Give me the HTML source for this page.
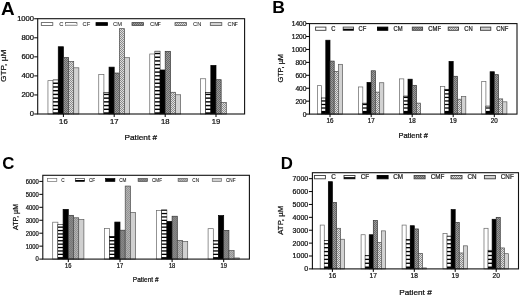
<!DOCTYPE html>
<html><head><meta charset="utf-8"><title>Chart</title>
<style>html,body{margin:0;padding:0;background:#fff;}body{width:520px;height:296px;overflow:hidden;font-family:"Liberation Sans",sans-serif;}svg{display:block}</style>
</head><body>
<svg width="520" height="296" viewBox="0 0 520 296" style="filter:blur(0.35px)">
<defs>
<pattern id="pCF" width="4" height="3.5" patternUnits="userSpaceOnUse"><rect width="4" height="3.5" fill="#fff"/><rect y="0" width="4" height="2" fill="#000"/></pattern>
<pattern id="pCMF" width="2" height="2" patternUnits="userSpaceOnUse"><rect width="2" height="2" fill="#9a9a9a"/><rect width="1" height="1" fill="#686868"/><rect x="1" y="1" width="1" height="1" fill="#686868"/></pattern>
<pattern id="pCN" width="2" height="2" patternUnits="userSpaceOnUse"><rect width="2" height="2" fill="#dedede"/><rect width="1" height="1" fill="#8c8c8c"/><rect x="1" y="1" width="1" height="1" fill="#8c8c8c"/></pattern>
<pattern id="pCMFc" width="2" height="2" patternUnits="userSpaceOnUse"><rect width="2" height="2" fill="#888"/><rect width="1" height="1" fill="#787878"/><rect x="1" y="1" width="1" height="1" fill="#787878"/></pattern>
<pattern id="pCNc" width="2" height="2" patternUnits="userSpaceOnUse"><rect width="2" height="2" fill="#b4b4b4"/><rect width="1" height="1" fill="#949494"/><rect x="1" y="1" width="1" height="1" fill="#949494"/></pattern>
</defs>
<rect width="520" height="296" fill="#fff"/><rect x="47.95" y="80.66" width="5.15" height="33.34" fill="#fff" stroke="#666" stroke-width="0.7"/>
<rect x="53.10" y="79.90" width="5.15" height="34.10" fill="#000" stroke="#000" stroke-width="0.5"/>
<rect x="53.25" y="110.00" width="4.85" height="2.30" fill="#fff"/>
<rect x="53.25" y="106.28" width="4.85" height="2.30" fill="#fff"/>
<rect x="53.25" y="102.56" width="4.85" height="2.30" fill="#fff"/>
<rect x="53.25" y="98.84" width="4.85" height="2.30" fill="#fff"/>
<rect x="53.25" y="95.12" width="4.85" height="2.30" fill="#fff"/>
<rect x="53.25" y="91.40" width="4.85" height="2.30" fill="#fff"/>
<rect x="53.25" y="87.68" width="4.85" height="2.30" fill="#fff"/>
<rect x="53.25" y="83.96" width="4.85" height="2.30" fill="#fff"/>
<rect x="53.25" y="80.24" width="4.85" height="2.30" fill="#fff"/>
<rect x="58.25" y="46.75" width="5.15" height="67.25" fill="#000" stroke="#000" stroke-width="0.7"/>
<rect x="63.40" y="57.61" width="5.15" height="56.39" fill="url(#pCMF)" stroke="#333" stroke-width="0.7"/>
<rect x="68.55" y="61.61" width="5.15" height="52.39" fill="url(#pCN)" stroke="#4a4a4a" stroke-width="0.7"/>
<rect x="73.70" y="67.80" width="5.15" height="46.20" fill="#d2d2d2" stroke="#5a5a5a" stroke-width="0.7"/>
<rect x="98.75" y="74.47" width="5.15" height="39.53" fill="#fff" stroke="#666" stroke-width="0.7"/>
<rect x="103.90" y="92.28" width="5.15" height="21.72" fill="#000" stroke="#000" stroke-width="0.5"/>
<rect x="104.05" y="110.00" width="4.85" height="2.30" fill="#fff"/>
<rect x="104.05" y="106.28" width="4.85" height="2.30" fill="#fff"/>
<rect x="104.05" y="102.56" width="4.85" height="2.30" fill="#fff"/>
<rect x="104.05" y="98.84" width="4.85" height="2.30" fill="#fff"/>
<rect x="104.05" y="95.12" width="4.85" height="2.30" fill="#fff"/>
<rect x="104.05" y="92.68" width="4.85" height="1.02" fill="#fff"/>
<rect x="109.05" y="67.14" width="5.15" height="46.86" fill="#000" stroke="#000" stroke-width="0.7"/>
<rect x="114.20" y="73.04" width="5.15" height="40.96" fill="url(#pCMF)" stroke="#333" stroke-width="0.7"/>
<rect x="119.35" y="28.66" width="5.15" height="85.34" fill="url(#pCN)" stroke="#4a4a4a" stroke-width="0.7"/>
<rect x="124.50" y="57.71" width="5.15" height="56.29" fill="#d2d2d2" stroke="#5a5a5a" stroke-width="0.7"/>
<rect x="149.75" y="53.99" width="5.15" height="60.01" fill="#fff" stroke="#666" stroke-width="0.7"/>
<rect x="154.90" y="51.13" width="5.15" height="62.87" fill="#000" stroke="#000" stroke-width="0.5"/>
<rect x="155.05" y="110.00" width="4.85" height="2.30" fill="#fff"/>
<rect x="155.05" y="106.28" width="4.85" height="2.30" fill="#fff"/>
<rect x="155.05" y="102.56" width="4.85" height="2.30" fill="#fff"/>
<rect x="155.05" y="98.84" width="4.85" height="2.30" fill="#fff"/>
<rect x="155.05" y="95.12" width="4.85" height="2.30" fill="#fff"/>
<rect x="155.05" y="91.40" width="4.85" height="2.30" fill="#fff"/>
<rect x="155.05" y="87.68" width="4.85" height="2.30" fill="#fff"/>
<rect x="155.05" y="83.96" width="4.85" height="2.30" fill="#fff"/>
<rect x="155.05" y="80.24" width="4.85" height="2.30" fill="#fff"/>
<rect x="155.05" y="76.52" width="4.85" height="2.30" fill="#fff"/>
<rect x="155.05" y="72.80" width="4.85" height="2.30" fill="#fff"/>
<rect x="155.05" y="69.08" width="4.85" height="2.30" fill="#fff"/>
<rect x="155.05" y="65.36" width="4.85" height="2.30" fill="#fff"/>
<rect x="155.05" y="61.64" width="4.85" height="2.30" fill="#fff"/>
<rect x="155.05" y="57.92" width="4.85" height="2.30" fill="#fff"/>
<rect x="155.05" y="54.20" width="4.85" height="2.30" fill="#fff"/>
<rect x="155.05" y="51.53" width="4.85" height="1.25" fill="#fff"/>
<rect x="160.05" y="69.99" width="5.15" height="44.01" fill="#000" stroke="#000" stroke-width="0.7"/>
<rect x="165.20" y="51.33" width="5.15" height="62.67" fill="url(#pCMF)" stroke="#333" stroke-width="0.7"/>
<rect x="170.35" y="92.28" width="5.15" height="21.72" fill="url(#pCN)" stroke="#4a4a4a" stroke-width="0.7"/>
<rect x="175.50" y="94.76" width="5.15" height="19.24" fill="#d2d2d2" stroke="#5a5a5a" stroke-width="0.7"/>
<rect x="200.55" y="78.76" width="5.15" height="35.24" fill="#fff" stroke="#666" stroke-width="0.7"/>
<rect x="205.70" y="92.57" width="5.15" height="21.43" fill="#000" stroke="#000" stroke-width="0.5"/>
<rect x="205.85" y="110.00" width="4.85" height="2.30" fill="#fff"/>
<rect x="205.85" y="106.28" width="4.85" height="2.30" fill="#fff"/>
<rect x="205.85" y="102.56" width="4.85" height="2.30" fill="#fff"/>
<rect x="205.85" y="98.84" width="4.85" height="2.30" fill="#fff"/>
<rect x="205.85" y="95.12" width="4.85" height="2.30" fill="#fff"/>
<rect x="205.85" y="92.97" width="4.85" height="0.73" fill="#fff"/>
<rect x="210.85" y="65.42" width="5.15" height="48.58" fill="#000" stroke="#000" stroke-width="0.7"/>
<rect x="216.00" y="79.71" width="5.15" height="34.29" fill="url(#pCMF)" stroke="#333" stroke-width="0.7"/>
<rect x="221.15" y="102.57" width="5.15" height="11.43" fill="url(#pCN)" stroke="#4a4a4a" stroke-width="0.7"/>
<rect x="37.7" y="18.7" width="206.89999999999998" height="95.3" fill="none" stroke="#111" stroke-width="1.1"/>
<line x1="34.2" y1="114.00" x2="37.7" y2="114.00" stroke="#000" stroke-width="1"/>
<text transform="translate(34.10,116.45) scale(1.09,1)" text-anchor="end" style="font-family:'Liberation Sans',sans-serif;font-size:7px" fill="#111" stroke="#111" stroke-width="0.24">0</text>
<line x1="34.2" y1="94.95" x2="37.7" y2="94.95" stroke="#000" stroke-width="1"/>
<text transform="translate(34.10,97.40) scale(1.09,1)" text-anchor="end" style="font-family:'Liberation Sans',sans-serif;font-size:7px" fill="#111" stroke="#111" stroke-width="0.24">200</text>
<line x1="34.2" y1="75.90" x2="37.7" y2="75.90" stroke="#000" stroke-width="1"/>
<text transform="translate(34.10,78.35) scale(1.09,1)" text-anchor="end" style="font-family:'Liberation Sans',sans-serif;font-size:7px" fill="#111" stroke="#111" stroke-width="0.24">400</text>
<line x1="34.2" y1="56.85" x2="37.7" y2="56.85" stroke="#000" stroke-width="1"/>
<text transform="translate(34.10,59.30) scale(1.09,1)" text-anchor="end" style="font-family:'Liberation Sans',sans-serif;font-size:7px" fill="#111" stroke="#111" stroke-width="0.24">600</text>
<line x1="34.2" y1="37.80" x2="37.7" y2="37.80" stroke="#000" stroke-width="1"/>
<text transform="translate(34.10,40.25) scale(1.09,1)" text-anchor="end" style="font-family:'Liberation Sans',sans-serif;font-size:7px" fill="#111" stroke="#111" stroke-width="0.24">800</text>
<line x1="34.2" y1="18.75" x2="37.7" y2="18.75" stroke="#000" stroke-width="1"/>
<text transform="translate(34.10,21.20) scale(1.09,1)" text-anchor="end" style="font-family:'Liberation Sans',sans-serif;font-size:7px" fill="#111" stroke="#111" stroke-width="0.24">1000</text>
<line x1="63.4" y1="114.0" x2="63.4" y2="117.0" stroke="#000" stroke-width="1"/>
<text transform="translate(63.40,124.10) scale(1.0,1)" text-anchor="middle" style="font-family:'Liberation Sans',sans-serif;font-size:7.7px" fill="#111" stroke="#111" stroke-width="0.24">16</text>
<line x1="114.2" y1="114.0" x2="114.2" y2="117.0" stroke="#000" stroke-width="1"/>
<text transform="translate(114.20,124.10) scale(1.0,1)" text-anchor="middle" style="font-family:'Liberation Sans',sans-serif;font-size:7.7px" fill="#111" stroke="#111" stroke-width="0.24">17</text>
<line x1="165.2" y1="114.0" x2="165.2" y2="117.0" stroke="#000" stroke-width="1"/>
<text transform="translate(165.20,124.10) scale(1.0,1)" text-anchor="middle" style="font-family:'Liberation Sans',sans-serif;font-size:7.7px" fill="#111" stroke="#111" stroke-width="0.24">18</text>
<line x1="216.0" y1="114.0" x2="216.0" y2="117.0" stroke="#000" stroke-width="1"/>
<text transform="translate(216.00,124.10) scale(1.0,1)" text-anchor="middle" style="font-family:'Liberation Sans',sans-serif;font-size:7.7px" fill="#111" stroke="#111" stroke-width="0.24">19</text>
<text transform="translate(140.80,139.50) scale(1.09,1)" text-anchor="middle" style="font-family:'Liberation Sans',sans-serif;font-size:7.6px" fill="#111" stroke="#111" stroke-width="0.24">Patient #</text>
<text transform="translate(6.20,65.80) rotate(-90) scale(1.12,1)" text-anchor="middle" style="font-family:'Liberation Sans',sans-serif;font-size:7.4px" fill="#111" stroke="#111" stroke-width="0.24">GTP, µM</text>
<text transform="translate(0.90,14.50) scale(1.05,1)" text-anchor="start" style="font-family:'Liberation Sans',sans-serif;font-size:18px;font-weight:bold" fill="#000">A</text>
<rect x="41.3" y="22.6" width="11.5" height="2.8" fill="#fff" stroke="#555" stroke-width="0.8"/>
<text transform="translate(59.30,26.20) scale(1.05,1)" text-anchor="start" style="font-family:'Liberation Sans',sans-serif;font-size:5.5px" fill="#333" stroke="#333" stroke-width="0.1">C</text>
<rect x="65.4" y="22.6" width="11.5" height="2.8" fill="#fff" stroke="#555" stroke-width="0.8"/>
<rect x="65.4" y="24.00" width="11.5" height="1.40" fill="#e4e4e4"/>
<text transform="translate(82.50,26.20) scale(1.05,1)" text-anchor="start" style="font-family:'Liberation Sans',sans-serif;font-size:5.5px" fill="#333" stroke="#333" stroke-width="0.1">CF</text>
<rect x="96" y="22.6" width="11.5" height="2.8" fill="#000" stroke="#000" stroke-width="0.8"/>
<text transform="translate(113.00,26.20) scale(1.05,1)" text-anchor="start" style="font-family:'Liberation Sans',sans-serif;font-size:5.5px" fill="#333" stroke="#333" stroke-width="0.1">CM</text>
<rect x="132" y="22.6" width="11.5" height="2.8" fill="url(#pCMF)" stroke="#444" stroke-width="0.8"/>
<text transform="translate(150.00,26.20) scale(1.05,1)" text-anchor="start" style="font-family:'Liberation Sans',sans-serif;font-size:5.5px" fill="#333" stroke="#333" stroke-width="0.1">CM<tspan dx="-1.6">F</tspan></text>
<rect x="175" y="22.6" width="11.5" height="2.8" fill="url(#pCN)" stroke="#555" stroke-width="0.8"/>
<text transform="translate(193.00,26.20) scale(1.05,1)" text-anchor="start" style="font-family:'Liberation Sans',sans-serif;font-size:5.5px" fill="#333" stroke="#333" stroke-width="0.1">CN</text>
<rect x="210.3" y="22.6" width="11.5" height="2.8" fill="#d2d2d2" stroke="#555" stroke-width="0.8"/>
<text transform="translate(227.60,26.20) scale(1.05,1)" text-anchor="start" style="font-family:'Liberation Sans',sans-serif;font-size:5.5px" fill="#333" stroke="#333" stroke-width="0.1">CN<tspan dx="-1.6">F</tspan></text>
<rect x="317.40" y="85.65" width="4.20" height="28.45" fill="#fff" stroke="#666" stroke-width="0.7"/>
<rect x="321.60" y="97.94" width="4.20" height="16.16" fill="#000" stroke="#000" stroke-width="0.5"/>
<rect x="321.75" y="108.65" width="3.90" height="2.25" fill="#fff"/>
<rect x="321.75" y="105.12" width="3.90" height="2.25" fill="#fff"/>
<rect x="321.75" y="101.59" width="3.90" height="2.25" fill="#fff"/>
<rect x="321.75" y="98.34" width="3.90" height="1.97" fill="#fff"/>
<rect x="325.80" y="40.21" width="4.20" height="73.89" fill="#000" stroke="#000" stroke-width="0.7"/>
<rect x="330.00" y="61.09" width="4.20" height="53.01" fill="url(#pCMF)" stroke="#333" stroke-width="0.7"/>
<rect x="334.20" y="71.43" width="4.20" height="42.67" fill="url(#pCN)" stroke="#4a4a4a" stroke-width="0.7"/>
<rect x="338.40" y="64.32" width="4.20" height="49.78" fill="#d2d2d2" stroke="#5a5a5a" stroke-width="0.7"/>
<rect x="358.60" y="86.95" width="4.20" height="27.15" fill="#fff" stroke="#666" stroke-width="0.7"/>
<rect x="362.80" y="103.11" width="4.20" height="10.99" fill="#000" stroke="#000" stroke-width="0.5"/>
<rect x="362.95" y="108.65" width="3.90" height="2.25" fill="#fff"/>
<rect x="362.95" y="105.12" width="3.90" height="2.25" fill="#fff"/>
<rect x="362.95" y="103.51" width="3.90" height="0.33" fill="#fff"/>
<rect x="367.00" y="82.42" width="4.20" height="31.68" fill="#000" stroke="#000" stroke-width="0.7"/>
<rect x="371.20" y="70.78" width="4.20" height="43.32" fill="url(#pCMF)" stroke="#333" stroke-width="0.7"/>
<rect x="375.40" y="92.12" width="4.20" height="21.98" fill="url(#pCN)" stroke="#4a4a4a" stroke-width="0.7"/>
<rect x="379.60" y="82.74" width="4.20" height="31.36" fill="#d2d2d2" stroke="#5a5a5a" stroke-width="0.7"/>
<rect x="399.60" y="78.87" width="4.20" height="35.23" fill="#fff" stroke="#666" stroke-width="0.7"/>
<rect x="403.80" y="96.00" width="4.20" height="18.10" fill="#000" stroke="#000" stroke-width="0.5"/>
<rect x="403.95" y="108.65" width="3.90" height="2.25" fill="#fff"/>
<rect x="403.95" y="105.12" width="3.90" height="2.25" fill="#fff"/>
<rect x="403.95" y="101.59" width="3.90" height="2.25" fill="#fff"/>
<rect x="403.95" y="98.06" width="3.90" height="2.25" fill="#fff"/>
<rect x="403.95" y="96.40" width="3.90" height="0.38" fill="#fff"/>
<rect x="408.00" y="79.19" width="4.20" height="34.91" fill="#000" stroke="#000" stroke-width="0.7"/>
<rect x="412.20" y="85.33" width="4.20" height="28.77" fill="url(#pCMF)" stroke="#333" stroke-width="0.7"/>
<rect x="416.40" y="103.11" width="4.20" height="10.99" fill="url(#pCN)" stroke="#4a4a4a" stroke-width="0.7"/>
<rect x="440.60" y="86.62" width="4.20" height="27.48" fill="#fff" stroke="#666" stroke-width="0.7"/>
<rect x="444.80" y="89.21" width="4.20" height="24.89" fill="#000" stroke="#000" stroke-width="0.5"/>
<rect x="444.95" y="108.65" width="3.90" height="2.25" fill="#fff"/>
<rect x="444.95" y="105.12" width="3.90" height="2.25" fill="#fff"/>
<rect x="444.95" y="101.59" width="3.90" height="2.25" fill="#fff"/>
<rect x="444.95" y="98.06" width="3.90" height="2.25" fill="#fff"/>
<rect x="444.95" y="94.53" width="3.90" height="2.25" fill="#fff"/>
<rect x="444.95" y="91.00" width="3.90" height="2.25" fill="#fff"/>
<rect x="444.95" y="89.61" width="3.90" height="0.11" fill="#fff"/>
<rect x="449.00" y="61.41" width="4.20" height="52.69" fill="#000" stroke="#000" stroke-width="0.7"/>
<rect x="453.20" y="76.28" width="4.20" height="37.82" fill="url(#pCMF)" stroke="#333" stroke-width="0.7"/>
<rect x="457.40" y="99.23" width="4.20" height="14.87" fill="url(#pCN)" stroke="#4a4a4a" stroke-width="0.7"/>
<rect x="461.60" y="96.64" width="4.20" height="17.46" fill="#d2d2d2" stroke="#5a5a5a" stroke-width="0.7"/>
<rect x="481.70" y="81.45" width="4.20" height="32.65" fill="#fff" stroke="#666" stroke-width="0.7"/>
<rect x="485.90" y="106.02" width="4.20" height="8.08" fill="#000" stroke="#000" stroke-width="0.5"/>
<rect x="486.05" y="108.65" width="3.90" height="2.25" fill="#fff"/>
<rect x="486.05" y="106.42" width="3.90" height="0.95" fill="#fff"/>
<rect x="490.10" y="71.75" width="4.20" height="42.35" fill="#000" stroke="#000" stroke-width="0.7"/>
<rect x="494.30" y="74.66" width="4.20" height="39.44" fill="url(#pCMF)" stroke="#333" stroke-width="0.7"/>
<rect x="498.50" y="98.91" width="4.20" height="15.19" fill="url(#pCN)" stroke="#4a4a4a" stroke-width="0.7"/>
<rect x="502.70" y="101.82" width="4.20" height="12.28" fill="#d2d2d2" stroke="#5a5a5a" stroke-width="0.7"/>
<rect x="309.5" y="23.6" width="207.5" height="90.5" fill="none" stroke="#111" stroke-width="1.1"/>
<line x1="306.0" y1="114.10" x2="309.5" y2="114.10" stroke="#000" stroke-width="1"/>
<text transform="translate(306.50,116.55) scale(0.95,1)" text-anchor="end" style="font-family:'Liberation Sans',sans-serif;font-size:7px" fill="#111" stroke="#111" stroke-width="0.24">0</text>
<line x1="306.0" y1="101.17" x2="309.5" y2="101.17" stroke="#000" stroke-width="1"/>
<text transform="translate(306.50,103.62) scale(0.95,1)" text-anchor="end" style="font-family:'Liberation Sans',sans-serif;font-size:7px" fill="#111" stroke="#111" stroke-width="0.24">200</text>
<line x1="306.0" y1="88.24" x2="309.5" y2="88.24" stroke="#000" stroke-width="1"/>
<text transform="translate(306.50,90.69) scale(0.95,1)" text-anchor="end" style="font-family:'Liberation Sans',sans-serif;font-size:7px" fill="#111" stroke="#111" stroke-width="0.24">400</text>
<line x1="306.0" y1="75.31" x2="309.5" y2="75.31" stroke="#000" stroke-width="1"/>
<text transform="translate(306.50,77.76) scale(0.95,1)" text-anchor="end" style="font-family:'Liberation Sans',sans-serif;font-size:7px" fill="#111" stroke="#111" stroke-width="0.24">600</text>
<line x1="306.0" y1="62.38" x2="309.5" y2="62.38" stroke="#000" stroke-width="1"/>
<text transform="translate(306.50,64.83) scale(0.95,1)" text-anchor="end" style="font-family:'Liberation Sans',sans-serif;font-size:7px" fill="#111" stroke="#111" stroke-width="0.24">800</text>
<line x1="306.0" y1="49.45" x2="309.5" y2="49.45" stroke="#000" stroke-width="1"/>
<text transform="translate(306.50,51.90) scale(0.95,1)" text-anchor="end" style="font-family:'Liberation Sans',sans-serif;font-size:7px" fill="#111" stroke="#111" stroke-width="0.24">1000</text>
<line x1="306.0" y1="36.52" x2="309.5" y2="36.52" stroke="#000" stroke-width="1"/>
<text transform="translate(306.50,38.97) scale(0.95,1)" text-anchor="end" style="font-family:'Liberation Sans',sans-serif;font-size:7px" fill="#111" stroke="#111" stroke-width="0.24">1200</text>
<line x1="306.0" y1="23.59" x2="309.5" y2="23.59" stroke="#000" stroke-width="1"/>
<text transform="translate(306.50,26.04) scale(0.95,1)" text-anchor="end" style="font-family:'Liberation Sans',sans-serif;font-size:7px" fill="#111" stroke="#111" stroke-width="0.24">1400</text>
<line x1="330" y1="114.1" x2="330" y2="117.1" stroke="#000" stroke-width="1"/>
<text transform="translate(330.00,122.80) scale(0.9,1)" text-anchor="middle" style="font-family:'Liberation Sans',sans-serif;font-size:7px" fill="#111" stroke="#111" stroke-width="0.24">16</text>
<line x1="371.2" y1="114.1" x2="371.2" y2="117.1" stroke="#000" stroke-width="1"/>
<text transform="translate(371.20,122.80) scale(0.9,1)" text-anchor="middle" style="font-family:'Liberation Sans',sans-serif;font-size:7px" fill="#111" stroke="#111" stroke-width="0.24">17</text>
<line x1="412.2" y1="114.1" x2="412.2" y2="117.1" stroke="#000" stroke-width="1"/>
<text transform="translate(412.20,122.80) scale(0.9,1)" text-anchor="middle" style="font-family:'Liberation Sans',sans-serif;font-size:7px" fill="#111" stroke="#111" stroke-width="0.24">18</text>
<line x1="453.2" y1="114.1" x2="453.2" y2="117.1" stroke="#000" stroke-width="1"/>
<text transform="translate(453.20,122.80) scale(0.9,1)" text-anchor="middle" style="font-family:'Liberation Sans',sans-serif;font-size:7px" fill="#111" stroke="#111" stroke-width="0.24">19</text>
<line x1="494.3" y1="114.1" x2="494.3" y2="117.1" stroke="#000" stroke-width="1"/>
<text transform="translate(494.30,122.80) scale(0.9,1)" text-anchor="middle" style="font-family:'Liberation Sans',sans-serif;font-size:7px" fill="#111" stroke="#111" stroke-width="0.24">20</text>
<text transform="translate(413.20,137.90) scale(1.07,1)" text-anchor="middle" style="font-family:'Liberation Sans',sans-serif;font-size:7px" fill="#111" stroke="#111" stroke-width="0.24">Patient #</text>
<text transform="translate(282.50,68.30) rotate(-90) scale(1.05,1)" text-anchor="middle" style="font-family:'Liberation Sans',sans-serif;font-size:7px" fill="#111" stroke="#111" stroke-width="0.24">GTP, µM</text>
<text transform="translate(272.30,12.90) scale(1.1,1)" text-anchor="start" style="font-family:'Liberation Sans',sans-serif;font-size:16px;font-weight:bold" fill="#000">B</text>
<rect x="315.6" y="27.1" width="10.3" height="3.2" fill="#fff" stroke="#3c3c3c" stroke-width="0.9"/>
<text transform="translate(331.30,30.90) scale(0.93,1)" text-anchor="start" style="font-family:'Liberation Sans',sans-serif;font-size:6.3px" fill="#222" stroke="#222" stroke-width="0.22">C</text>
<rect x="343.2" y="27.1" width="10.3" height="3.2" fill="#fff" stroke="#3c3c3c" stroke-width="0.9"/>
<rect x="343.2" y="28.70" width="10.3" height="1.60" fill="#000"/>
<text transform="translate(358.60,30.90) scale(0.93,1)" text-anchor="start" style="font-family:'Liberation Sans',sans-serif;font-size:6.3px" fill="#222" stroke="#222" stroke-width="0.22">CF</text>
<rect x="377.5" y="27.1" width="10.3" height="3.2" fill="#000" stroke="#000" stroke-width="0.9"/>
<text transform="translate(393.40,30.90) scale(0.93,1)" text-anchor="start" style="font-family:'Liberation Sans',sans-serif;font-size:6.3px" fill="#222" stroke="#222" stroke-width="0.22">CM</text>
<rect x="412.3" y="27.1" width="10.3" height="3.2" fill="url(#pCMF)" stroke="#444" stroke-width="0.9"/>
<text transform="translate(428.30,30.90) scale(0.93,1)" text-anchor="start" style="font-family:'Liberation Sans',sans-serif;font-size:6.3px" fill="#222" stroke="#222" stroke-width="0.22">CMF</text>
<rect x="448.2" y="27.1" width="10.3" height="3.2" fill="url(#pCN)" stroke="#3c3c3c" stroke-width="0.9"/>
<text transform="translate(464.20,30.90) scale(0.93,1)" text-anchor="start" style="font-family:'Liberation Sans',sans-serif;font-size:6.3px" fill="#222" stroke="#222" stroke-width="0.22">CN</text>
<rect x="480.5" y="27.1" width="10.3" height="3.2" fill="#d2d2d2" stroke="#3c3c3c" stroke-width="0.9"/>
<text transform="translate(496.30,30.90) scale(0.93,1)" text-anchor="start" style="font-family:'Liberation Sans',sans-serif;font-size:6.3px" fill="#222" stroke="#222" stroke-width="0.22">CNF</text>
<rect x="52.70" y="222.19" width="5.20" height="36.91" fill="#fff" stroke="#666" stroke-width="0.7"/>
<rect x="57.90" y="224.26" width="5.20" height="34.84" fill="#000" stroke="#000" stroke-width="0.5"/>
<rect x="58.05" y="255.00" width="4.90" height="2.10" fill="#fff"/>
<rect x="58.05" y="251.60" width="4.90" height="2.10" fill="#fff"/>
<rect x="58.05" y="248.20" width="4.90" height="2.10" fill="#fff"/>
<rect x="58.05" y="244.80" width="4.90" height="2.10" fill="#fff"/>
<rect x="58.05" y="241.40" width="4.90" height="2.10" fill="#fff"/>
<rect x="58.05" y="238.00" width="4.90" height="2.10" fill="#fff"/>
<rect x="58.05" y="234.60" width="4.90" height="2.10" fill="#fff"/>
<rect x="58.05" y="231.20" width="4.90" height="2.10" fill="#fff"/>
<rect x="58.05" y="227.80" width="4.90" height="2.10" fill="#fff"/>
<rect x="58.05" y="224.66" width="4.90" height="1.84" fill="#fff"/>
<rect x="63.10" y="209.37" width="5.20" height="49.73" fill="#000" stroke="#000" stroke-width="0.7"/>
<rect x="68.30" y="215.33" width="5.20" height="43.77" fill="url(#pCMFc)" stroke="#333" stroke-width="0.7"/>
<rect x="73.50" y="217.79" width="5.20" height="41.31" fill="url(#pCNc)" stroke="#4a4a4a" stroke-width="0.7"/>
<rect x="78.70" y="219.60" width="5.20" height="39.50" fill="#d0d0d0" stroke="#5a5a5a" stroke-width="0.7"/>
<rect x="104.40" y="228.54" width="5.20" height="30.56" fill="#fff" stroke="#666" stroke-width="0.7"/>
<rect x="109.60" y="236.31" width="5.20" height="22.79" fill="#000" stroke="#000" stroke-width="0.5"/>
<rect x="109.75" y="255.00" width="4.90" height="2.10" fill="#fff"/>
<rect x="109.75" y="251.60" width="4.90" height="2.10" fill="#fff"/>
<rect x="109.75" y="248.20" width="4.90" height="2.10" fill="#fff"/>
<rect x="109.75" y="244.80" width="4.90" height="2.10" fill="#fff"/>
<rect x="109.75" y="241.40" width="4.90" height="2.10" fill="#fff"/>
<rect x="109.75" y="238.00" width="4.90" height="2.10" fill="#fff"/>
<rect x="114.80" y="222.06" width="5.20" height="37.04" fill="#000" stroke="#000" stroke-width="0.7"/>
<rect x="120.00" y="230.22" width="5.20" height="28.88" fill="url(#pCMFc)" stroke="#333" stroke-width="0.7"/>
<rect x="125.20" y="186.06" width="5.20" height="73.04" fill="url(#pCNc)" stroke="#4a4a4a" stroke-width="0.7"/>
<rect x="130.40" y="212.35" width="5.20" height="46.75" fill="#d0d0d0" stroke="#5a5a5a" stroke-width="0.7"/>
<rect x="156.50" y="210.41" width="5.20" height="48.69" fill="#fff" stroke="#666" stroke-width="0.7"/>
<rect x="161.70" y="209.89" width="5.20" height="49.21" fill="#000" stroke="#000" stroke-width="0.5"/>
<rect x="161.85" y="255.00" width="4.90" height="2.10" fill="#fff"/>
<rect x="161.85" y="251.60" width="4.90" height="2.10" fill="#fff"/>
<rect x="161.85" y="248.20" width="4.90" height="2.10" fill="#fff"/>
<rect x="161.85" y="244.80" width="4.90" height="2.10" fill="#fff"/>
<rect x="161.85" y="241.40" width="4.90" height="2.10" fill="#fff"/>
<rect x="161.85" y="238.00" width="4.90" height="2.10" fill="#fff"/>
<rect x="161.85" y="234.60" width="4.90" height="2.10" fill="#fff"/>
<rect x="161.85" y="231.20" width="4.90" height="2.10" fill="#fff"/>
<rect x="161.85" y="227.80" width="4.90" height="2.10" fill="#fff"/>
<rect x="161.85" y="224.40" width="4.90" height="2.10" fill="#fff"/>
<rect x="161.85" y="221.00" width="4.90" height="2.10" fill="#fff"/>
<rect x="161.85" y="217.60" width="4.90" height="2.10" fill="#fff"/>
<rect x="161.85" y="214.20" width="4.90" height="2.10" fill="#fff"/>
<rect x="161.85" y="210.80" width="4.90" height="2.10" fill="#fff"/>
<rect x="166.90" y="221.42" width="5.20" height="37.68" fill="#000" stroke="#000" stroke-width="0.7"/>
<rect x="172.10" y="216.24" width="5.20" height="42.86" fill="url(#pCMFc)" stroke="#333" stroke-width="0.7"/>
<rect x="177.30" y="240.45" width="5.20" height="18.65" fill="url(#pCNc)" stroke="#4a4a4a" stroke-width="0.7"/>
<rect x="182.50" y="241.49" width="5.20" height="17.61" fill="#d0d0d0" stroke="#5a5a5a" stroke-width="0.7"/>
<rect x="208.10" y="228.67" width="5.20" height="30.43" fill="#fff" stroke="#666" stroke-width="0.7"/>
<rect x="213.30" y="240.45" width="5.20" height="18.65" fill="#000" stroke="#000" stroke-width="0.5"/>
<rect x="213.45" y="255.00" width="4.90" height="2.10" fill="#fff"/>
<rect x="213.45" y="251.60" width="4.90" height="2.10" fill="#fff"/>
<rect x="213.45" y="248.20" width="4.90" height="2.10" fill="#fff"/>
<rect x="213.45" y="244.80" width="4.90" height="2.10" fill="#fff"/>
<rect x="213.45" y="241.40" width="4.90" height="2.10" fill="#fff"/>
<rect x="218.50" y="215.59" width="5.20" height="43.51" fill="#000" stroke="#000" stroke-width="0.7"/>
<rect x="223.70" y="230.35" width="5.20" height="28.75" fill="url(#pCMFc)" stroke="#333" stroke-width="0.7"/>
<rect x="228.90" y="250.55" width="5.20" height="8.55" fill="url(#pCNc)" stroke="#4a4a4a" stroke-width="0.7"/>
<rect x="234.10" y="257.93" width="5.20" height="1.17" fill="#d0d0d0" stroke="#5a5a5a" stroke-width="0.7"/>
<rect x="42.8" y="175.3" width="206.60000000000002" height="83.80000000000001" fill="none" stroke="#111" stroke-width="1.1"/>
<line x1="39.3" y1="259.10" x2="42.8" y2="259.10" stroke="#000" stroke-width="1"/>
<text transform="translate(38.80,261.48) scale(0.86,1)" text-anchor="end" style="font-family:'Liberation Sans',sans-serif;font-size:6.8px" fill="#111" stroke="#111" stroke-width="0.24">0</text>
<line x1="39.3" y1="246.15" x2="42.8" y2="246.15" stroke="#000" stroke-width="1"/>
<text transform="translate(38.80,248.53) scale(0.86,1)" text-anchor="end" style="font-family:'Liberation Sans',sans-serif;font-size:6.8px" fill="#111" stroke="#111" stroke-width="0.24">1000</text>
<line x1="39.3" y1="233.20" x2="42.8" y2="233.20" stroke="#000" stroke-width="1"/>
<text transform="translate(38.80,235.58) scale(0.86,1)" text-anchor="end" style="font-family:'Liberation Sans',sans-serif;font-size:6.8px" fill="#111" stroke="#111" stroke-width="0.24">2000</text>
<line x1="39.3" y1="220.25" x2="42.8" y2="220.25" stroke="#000" stroke-width="1"/>
<text transform="translate(38.80,222.63) scale(0.86,1)" text-anchor="end" style="font-family:'Liberation Sans',sans-serif;font-size:6.8px" fill="#111" stroke="#111" stroke-width="0.24">3000</text>
<line x1="39.3" y1="207.30" x2="42.8" y2="207.30" stroke="#000" stroke-width="1"/>
<text transform="translate(38.80,209.68) scale(0.86,1)" text-anchor="end" style="font-family:'Liberation Sans',sans-serif;font-size:6.8px" fill="#111" stroke="#111" stroke-width="0.24">4000</text>
<line x1="39.3" y1="194.35" x2="42.8" y2="194.35" stroke="#000" stroke-width="1"/>
<text transform="translate(38.80,196.73) scale(0.86,1)" text-anchor="end" style="font-family:'Liberation Sans',sans-serif;font-size:6.8px" fill="#111" stroke="#111" stroke-width="0.24">5000</text>
<line x1="39.3" y1="181.40" x2="42.8" y2="181.40" stroke="#000" stroke-width="1"/>
<text transform="translate(38.80,183.78) scale(0.86,1)" text-anchor="end" style="font-family:'Liberation Sans',sans-serif;font-size:6.8px" fill="#111" stroke="#111" stroke-width="0.24">6000</text>
<line x1="68.3" y1="259.1" x2="68.3" y2="262.1" stroke="#000" stroke-width="1"/>
<text transform="translate(68.30,267.90) scale(0.85,1)" text-anchor="middle" style="font-family:'Liberation Sans',sans-serif;font-size:6.8px" fill="#111" stroke="#111" stroke-width="0.24">16</text>
<line x1="120" y1="259.1" x2="120" y2="262.1" stroke="#000" stroke-width="1"/>
<text transform="translate(120.00,267.90) scale(0.85,1)" text-anchor="middle" style="font-family:'Liberation Sans',sans-serif;font-size:6.8px" fill="#111" stroke="#111" stroke-width="0.24">17</text>
<line x1="172.1" y1="259.1" x2="172.1" y2="262.1" stroke="#000" stroke-width="1"/>
<text transform="translate(172.10,267.90) scale(0.85,1)" text-anchor="middle" style="font-family:'Liberation Sans',sans-serif;font-size:6.8px" fill="#111" stroke="#111" stroke-width="0.24">18</text>
<line x1="223.7" y1="259.1" x2="223.7" y2="262.1" stroke="#000" stroke-width="1"/>
<text transform="translate(223.70,267.90) scale(0.85,1)" text-anchor="middle" style="font-family:'Liberation Sans',sans-serif;font-size:6.8px" fill="#111" stroke="#111" stroke-width="0.24">19</text>
<text transform="translate(145.70,282.00) scale(0.93,1)" text-anchor="middle" style="font-family:'Liberation Sans',sans-serif;font-size:7px" fill="#111" stroke="#111" stroke-width="0.24">Patient #</text>
<text transform="translate(18.20,217.00) rotate(-90) scale(1.0,1)" text-anchor="middle" style="font-family:'Liberation Sans',sans-serif;font-size:7px" fill="#111" stroke="#111" stroke-width="0.24">ATP, µM</text>
<text transform="translate(2.30,169.00) scale(1.05,1)" text-anchor="start" style="font-family:'Liberation Sans',sans-serif;font-size:16px;font-weight:bold" fill="#000">C</text>
<rect x="47.5" y="178.5" width="9.3" height="3.0" fill="#fff" stroke="#666" stroke-width="0.65"/>
<text transform="translate(61.30,182.20) scale(0.85,1)" text-anchor="start" style="font-family:'Liberation Sans',sans-serif;font-size:5.5px" fill="#222" stroke="#222" stroke-width="0.1">C</text>
<rect x="75.3" y="178.5" width="9.3" height="3.0" fill="#fff" stroke="#333" stroke-width="0.65"/>
<rect x="75.3" y="180.00" width="9.3" height="1.50" fill="#000"/>
<text transform="translate(88.90,182.20) scale(0.85,1)" text-anchor="start" style="font-family:'Liberation Sans',sans-serif;font-size:5.5px" fill="#222" stroke="#222" stroke-width="0.1">CF</text>
<rect x="105.6" y="178.5" width="9.3" height="3.0" fill="#000" stroke="#000" stroke-width="0.65"/>
<text transform="translate(119.20,182.20) scale(0.85,1)" text-anchor="start" style="font-family:'Liberation Sans',sans-serif;font-size:5.5px" fill="#222" stroke="#222" stroke-width="0.1">CM</text>
<rect x="138.1" y="178.5" width="9.3" height="3.0" fill="url(#pCMFc)" stroke="#444" stroke-width="0.65"/>
<text transform="translate(152.00,182.20) scale(0.85,1)" text-anchor="start" style="font-family:'Liberation Sans',sans-serif;font-size:5.5px" fill="#222" stroke="#222" stroke-width="0.1">CMF</text>
<rect x="178.1" y="178.5" width="9.3" height="3.0" fill="url(#pCNc)" stroke="#555" stroke-width="0.65"/>
<text transform="translate(192.30,182.20) scale(0.85,1)" text-anchor="start" style="font-family:'Liberation Sans',sans-serif;font-size:5.5px" fill="#222" stroke="#222" stroke-width="0.1">CN</text>
<rect x="212.25" y="178.5" width="9.3" height="3.0" fill="#d0d0d0" stroke="#666" stroke-width="0.65"/>
<text transform="translate(226.00,182.20) scale(0.85,1)" text-anchor="start" style="font-family:'Liberation Sans',sans-serif;font-size:5.5px" fill="#222" stroke="#222" stroke-width="0.1">CNF</text>
<rect x="320.19" y="225.07" width="4.07" height="43.83" fill="#fff" stroke="#666" stroke-width="0.7"/>
<rect x="324.26" y="240.54" width="4.07" height="28.36" fill="#000" stroke="#000" stroke-width="0.5"/>
<rect x="324.41" y="263.95" width="3.77" height="2.55" fill="#fff"/>
<rect x="324.41" y="260.05" width="3.77" height="2.55" fill="#fff"/>
<rect x="324.41" y="256.15" width="3.77" height="2.55" fill="#fff"/>
<rect x="324.41" y="252.25" width="3.77" height="2.55" fill="#fff"/>
<rect x="324.41" y="248.35" width="3.77" height="2.55" fill="#fff"/>
<rect x="324.41" y="244.45" width="3.77" height="2.55" fill="#fff"/>
<rect x="324.41" y="240.94" width="3.77" height="2.16" fill="#fff"/>
<rect x="328.33" y="181.70" width="4.07" height="87.20" fill="#000" stroke="#000" stroke-width="0.7"/>
<rect x="332.40" y="202.52" width="4.07" height="66.38" fill="url(#pCMF)" stroke="#333" stroke-width="0.7"/>
<rect x="336.47" y="228.30" width="4.07" height="40.60" fill="url(#pCN)" stroke="#4a4a4a" stroke-width="0.7"/>
<rect x="340.54" y="239.25" width="4.07" height="29.65" fill="#d2d2d2" stroke="#5a5a5a" stroke-width="0.7"/>
<rect x="361.09" y="234.74" width="4.07" height="34.16" fill="#fff" stroke="#666" stroke-width="0.7"/>
<rect x="365.16" y="255.37" width="4.07" height="13.53" fill="#000" stroke="#000" stroke-width="0.5"/>
<rect x="365.31" y="263.95" width="3.77" height="2.55" fill="#fff"/>
<rect x="365.31" y="260.05" width="3.77" height="2.55" fill="#fff"/>
<rect x="365.31" y="256.15" width="3.77" height="2.55" fill="#fff"/>
<rect x="369.23" y="234.74" width="4.07" height="34.16" fill="#000" stroke="#000" stroke-width="0.7"/>
<rect x="373.30" y="220.56" width="4.07" height="48.34" fill="url(#pCMF)" stroke="#333" stroke-width="0.7"/>
<rect x="377.37" y="242.48" width="4.07" height="26.42" fill="url(#pCN)" stroke="#4a4a4a" stroke-width="0.7"/>
<rect x="381.44" y="230.87" width="4.07" height="38.03" fill="#d2d2d2" stroke="#5a5a5a" stroke-width="0.7"/>
<rect x="402.09" y="225.07" width="4.07" height="43.83" fill="#fff" stroke="#666" stroke-width="0.7"/>
<rect x="406.16" y="239.25" width="4.07" height="29.65" fill="#000" stroke="#000" stroke-width="0.5"/>
<rect x="406.31" y="263.95" width="3.77" height="2.55" fill="#fff"/>
<rect x="406.31" y="260.05" width="3.77" height="2.55" fill="#fff"/>
<rect x="406.31" y="256.15" width="3.77" height="2.55" fill="#fff"/>
<rect x="406.31" y="252.25" width="3.77" height="2.55" fill="#fff"/>
<rect x="406.31" y="248.35" width="3.77" height="2.55" fill="#fff"/>
<rect x="406.31" y="244.45" width="3.77" height="2.55" fill="#fff"/>
<rect x="406.31" y="240.55" width="3.77" height="2.55" fill="#fff"/>
<rect x="410.23" y="225.72" width="4.07" height="43.18" fill="#000" stroke="#000" stroke-width="0.7"/>
<rect x="414.30" y="228.94" width="4.07" height="39.96" fill="url(#pCMF)" stroke="#333" stroke-width="0.7"/>
<rect x="418.37" y="253.43" width="4.07" height="15.47" fill="url(#pCN)" stroke="#4a4a4a" stroke-width="0.7"/>
<rect x="422.44" y="267.87" width="4.07" height="1.03" fill="#d2d2d2" stroke="#5a5a5a" stroke-width="0.7"/>
<rect x="442.99" y="233.45" width="4.07" height="35.45" fill="#fff" stroke="#666" stroke-width="0.7"/>
<rect x="447.06" y="236.03" width="4.07" height="32.87" fill="#000" stroke="#000" stroke-width="0.5"/>
<rect x="447.21" y="263.95" width="3.77" height="2.55" fill="#fff"/>
<rect x="447.21" y="260.05" width="3.77" height="2.55" fill="#fff"/>
<rect x="447.21" y="256.15" width="3.77" height="2.55" fill="#fff"/>
<rect x="447.21" y="252.25" width="3.77" height="2.55" fill="#fff"/>
<rect x="447.21" y="248.35" width="3.77" height="2.55" fill="#fff"/>
<rect x="447.21" y="244.45" width="3.77" height="2.55" fill="#fff"/>
<rect x="447.21" y="240.55" width="3.77" height="2.55" fill="#fff"/>
<rect x="447.21" y="236.65" width="3.77" height="2.55" fill="#fff"/>
<rect x="451.13" y="209.61" width="4.07" height="59.29" fill="#000" stroke="#000" stroke-width="0.7"/>
<rect x="455.20" y="222.50" width="4.07" height="46.40" fill="url(#pCMF)" stroke="#333" stroke-width="0.7"/>
<rect x="459.27" y="252.98" width="4.07" height="15.92" fill="url(#pCN)" stroke="#4a4a4a" stroke-width="0.7"/>
<rect x="463.34" y="245.83" width="4.07" height="23.07" fill="#d2d2d2" stroke="#5a5a5a" stroke-width="0.7"/>
<rect x="483.99" y="228.30" width="4.07" height="40.60" fill="#fff" stroke="#666" stroke-width="0.7"/>
<rect x="488.06" y="250.21" width="4.07" height="18.69" fill="#000" stroke="#000" stroke-width="0.5"/>
<rect x="488.21" y="263.95" width="3.77" height="2.55" fill="#fff"/>
<rect x="488.21" y="260.05" width="3.77" height="2.55" fill="#fff"/>
<rect x="488.21" y="256.15" width="3.77" height="2.55" fill="#fff"/>
<rect x="488.21" y="252.25" width="3.77" height="2.55" fill="#fff"/>
<rect x="488.21" y="250.61" width="3.77" height="0.29" fill="#fff"/>
<rect x="492.13" y="219.27" width="4.07" height="49.63" fill="#000" stroke="#000" stroke-width="0.7"/>
<rect x="496.20" y="217.34" width="4.07" height="51.56" fill="url(#pCMF)" stroke="#333" stroke-width="0.7"/>
<rect x="500.27" y="247.95" width="4.07" height="20.95" fill="url(#pCN)" stroke="#4a4a4a" stroke-width="0.7"/>
<rect x="504.34" y="253.69" width="4.07" height="15.21" fill="#d2d2d2" stroke="#5a5a5a" stroke-width="0.7"/>
<rect x="312.4" y="172.7" width="206.10000000000002" height="96.19999999999999" fill="none" stroke="#111" stroke-width="1.1"/>
<line x1="308.9" y1="268.90" x2="312.4" y2="268.90" stroke="#000" stroke-width="1"/>
<text transform="translate(308.20,271.35) scale(1.0,1)" text-anchor="end" style="font-family:'Liberation Sans',sans-serif;font-size:7px" fill="#111" stroke="#111" stroke-width="0.24">0</text>
<line x1="308.9" y1="256.01" x2="312.4" y2="256.01" stroke="#000" stroke-width="1"/>
<text transform="translate(308.20,258.46) scale(1.0,1)" text-anchor="end" style="font-family:'Liberation Sans',sans-serif;font-size:7px" fill="#111" stroke="#111" stroke-width="0.24">1000</text>
<line x1="308.9" y1="243.12" x2="312.4" y2="243.12" stroke="#000" stroke-width="1"/>
<text transform="translate(308.20,245.57) scale(1.0,1)" text-anchor="end" style="font-family:'Liberation Sans',sans-serif;font-size:7px" fill="#111" stroke="#111" stroke-width="0.24">2000</text>
<line x1="308.9" y1="230.23" x2="312.4" y2="230.23" stroke="#000" stroke-width="1"/>
<text transform="translate(308.20,232.68) scale(1.0,1)" text-anchor="end" style="font-family:'Liberation Sans',sans-serif;font-size:7px" fill="#111" stroke="#111" stroke-width="0.24">3000</text>
<line x1="308.9" y1="217.34" x2="312.4" y2="217.34" stroke="#000" stroke-width="1"/>
<text transform="translate(308.20,219.79) scale(1.0,1)" text-anchor="end" style="font-family:'Liberation Sans',sans-serif;font-size:7px" fill="#111" stroke="#111" stroke-width="0.24">4000</text>
<line x1="308.9" y1="204.45" x2="312.4" y2="204.45" stroke="#000" stroke-width="1"/>
<text transform="translate(308.20,206.90) scale(1.0,1)" text-anchor="end" style="font-family:'Liberation Sans',sans-serif;font-size:7px" fill="#111" stroke="#111" stroke-width="0.24">5000</text>
<line x1="308.9" y1="191.56" x2="312.4" y2="191.56" stroke="#000" stroke-width="1"/>
<text transform="translate(308.20,194.01) scale(1.0,1)" text-anchor="end" style="font-family:'Liberation Sans',sans-serif;font-size:7px" fill="#111" stroke="#111" stroke-width="0.24">6000</text>
<line x1="308.9" y1="178.67" x2="312.4" y2="178.67" stroke="#000" stroke-width="1"/>
<text transform="translate(308.20,181.12) scale(1.0,1)" text-anchor="end" style="font-family:'Liberation Sans',sans-serif;font-size:7px" fill="#111" stroke="#111" stroke-width="0.24">7000</text>
<line x1="332.4" y1="268.9" x2="332.4" y2="271.9" stroke="#000" stroke-width="1"/>
<text transform="translate(332.40,278.40) scale(0.88,1)" text-anchor="middle" style="font-family:'Liberation Sans',sans-serif;font-size:7.6px" fill="#111" stroke="#111" stroke-width="0.24">16</text>
<line x1="373.3" y1="268.9" x2="373.3" y2="271.9" stroke="#000" stroke-width="1"/>
<text transform="translate(373.30,278.40) scale(0.88,1)" text-anchor="middle" style="font-family:'Liberation Sans',sans-serif;font-size:7.6px" fill="#111" stroke="#111" stroke-width="0.24">17</text>
<line x1="414.3" y1="268.9" x2="414.3" y2="271.9" stroke="#000" stroke-width="1"/>
<text transform="translate(414.30,278.40) scale(0.88,1)" text-anchor="middle" style="font-family:'Liberation Sans',sans-serif;font-size:7.6px" fill="#111" stroke="#111" stroke-width="0.24">18</text>
<line x1="455.2" y1="268.9" x2="455.2" y2="271.9" stroke="#000" stroke-width="1"/>
<text transform="translate(455.20,278.40) scale(0.88,1)" text-anchor="middle" style="font-family:'Liberation Sans',sans-serif;font-size:7.6px" fill="#111" stroke="#111" stroke-width="0.24">19</text>
<line x1="496.2" y1="268.9" x2="496.2" y2="271.9" stroke="#000" stroke-width="1"/>
<text transform="translate(496.20,278.40) scale(0.88,1)" text-anchor="middle" style="font-family:'Liberation Sans',sans-serif;font-size:7.6px" fill="#111" stroke="#111" stroke-width="0.24">20</text>
<text transform="translate(415.50,294.60) scale(1.07,1)" text-anchor="middle" style="font-family:'Liberation Sans',sans-serif;font-size:7.7px" fill="#111" stroke="#111" stroke-width="0.24">Patient #</text>
<text transform="translate(282.80,220.30) rotate(-90) scale(1.0,1)" text-anchor="middle" style="font-family:'Liberation Sans',sans-serif;font-size:7.8px" fill="#111" stroke="#111" stroke-width="0.24">ATP, µM</text>
<text transform="translate(280.80,168.60) scale(1.05,1)" text-anchor="start" style="font-family:'Liberation Sans',sans-serif;font-size:16px;font-weight:bold" fill="#000">D</text>
<rect x="314.4" y="175.5" width="11" height="3.3" fill="#fff" stroke="#3c3c3c" stroke-width="0.9"/>
<text transform="translate(331.30,179.15) scale(1.0,1)" text-anchor="start" style="font-family:'Liberation Sans',sans-serif;font-size:6.3px" fill="#222" stroke="#222" stroke-width="0.22">C</text>
<rect x="344" y="175.5" width="11" height="3.3" fill="#fff" stroke="#3c3c3c" stroke-width="0.9"/>
<rect x="344" y="177.15" width="11" height="1.65" fill="#000"/>
<text transform="translate(360.80,179.15) scale(1.0,1)" text-anchor="start" style="font-family:'Liberation Sans',sans-serif;font-size:6.3px" fill="#222" stroke="#222" stroke-width="0.22">CF</text>
<rect x="377.1" y="175.5" width="11" height="3.3" fill="#000" stroke="#000" stroke-width="0.9"/>
<text transform="translate(393.30,179.15) scale(1.0,1)" text-anchor="start" style="font-family:'Liberation Sans',sans-serif;font-size:6.3px" fill="#222" stroke="#222" stroke-width="0.22">CM</text>
<rect x="414.1" y="175.5" width="11" height="3.3" fill="url(#pCMF)" stroke="#444" stroke-width="0.9"/>
<text transform="translate(430.80,179.15) scale(1.0,1)" text-anchor="start" style="font-family:'Liberation Sans',sans-serif;font-size:6.3px" fill="#222" stroke="#222" stroke-width="0.22">CMF</text>
<rect x="451" y="175.5" width="11" height="3.3" fill="url(#pCN)" stroke="#3c3c3c" stroke-width="0.9"/>
<text transform="translate(467.50,179.15) scale(1.0,1)" text-anchor="start" style="font-family:'Liberation Sans',sans-serif;font-size:6.3px" fill="#222" stroke="#222" stroke-width="0.22">CN</text>
<rect x="484.4" y="175.5" width="11" height="3.3" fill="#d2d2d2" stroke="#3c3c3c" stroke-width="0.9"/>
<text transform="translate(500.80,179.15) scale(1.0,1)" text-anchor="start" style="font-family:'Liberation Sans',sans-serif;font-size:6.3px" fill="#222" stroke="#222" stroke-width="0.22">CNF</text></svg>
</body></html>
